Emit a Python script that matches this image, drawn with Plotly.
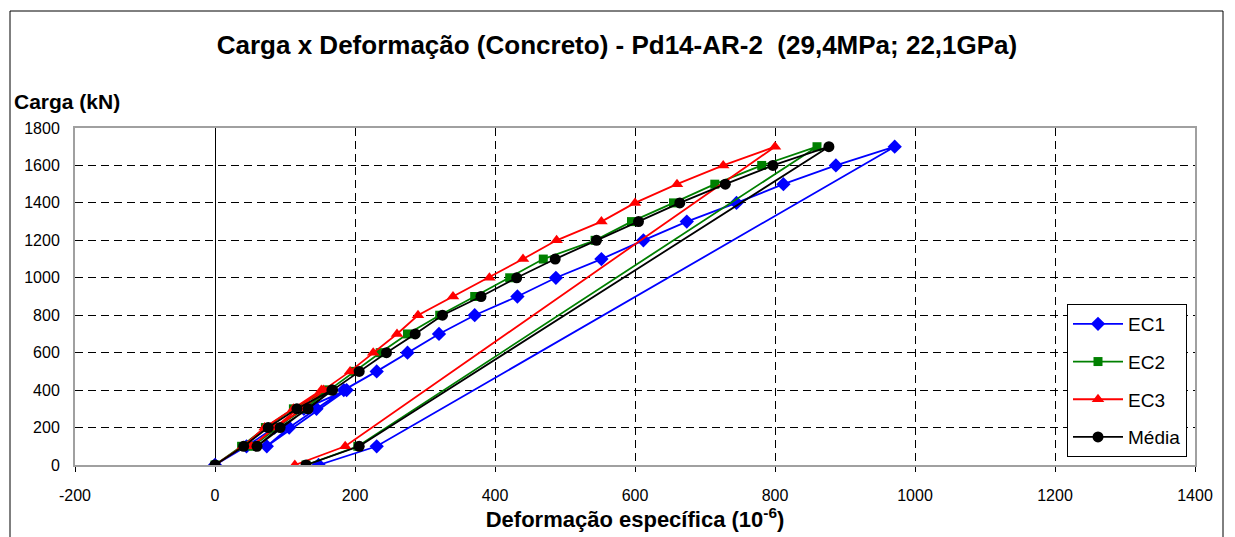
import plotly.graph_objects as go

# Load sequence: preload 0-400, reload 100-1700, unload 100, 0
loads = [0, 100, 200, 300, 400,
         100, 200, 300, 400, 500, 600, 700, 800, 900, 1000, 1100, 1200, 1300, 1400, 1500, 1600, 1700,
         100, 0]

ec1 = [0, 45, 85, 127, 188,
       74, 106, 145, 184, 231, 275, 320, 371, 432, 487, 552, 612, 674, 745, 812, 887, 971,
       231, 148]
ec2 = [0, 38, 72, 112, 160,
       54, 87, 128, 163, 200, 236, 275, 321, 371, 421, 469, 543, 595, 655, 714, 781, 860,
       204, 130]
ec3 = [0, 40, 71, 112, 152,
       52, 86, 126, 155, 193, 226, 260, 290, 340, 392, 440, 488, 552, 600, 660, 726, 800,
       186, 114]
media = [0, 41, 76, 117, 167,
         60, 93, 133, 168, 206, 245, 286, 325, 380, 431, 486, 545, 605, 664, 729, 797, 877,
         206, 130]

x_ticks = [-200, 0, 200, 400, 600, 800, 1000, 1200, 1400]
y_ticks = [0, 200, 400, 600, 800, 1000, 1200, 1400, 1600, 1800]

title_text = "Carga x Deformação (Concreto) - Pd14-AR-2  (29,4MPa; 22,1GPa)"
x_title = "Deformação específica (10<sup>-6</sup>)"
y_title = "Carga (kN)"

FONT = "Liberation Sans, Arial, sans-serif"

series = [
    ("EC1", ec1, "#0000FF", "diamond", 11),
    ("EC2", ec2, "#008000", "square", 9),
    ("EC3", ec3, "#FF0000", "triangle-up", 11),
    ("Média", media, "#000000", "circle", 11),
]

# page has 8px body margin: figure is 1227x529 placed at (8,8)
W, H = 1227, 529
PL, PT, PR, PB = 75, 128, 1195, 465  # plot area in page px

fig = go.Figure()
for name, vals, color, sym, size in series:
    fig.add_trace(go.Scatter(
        x=vals, y=loads, name=name, mode="lines+markers",
        line=dict(color=color, width=1.8),
        marker=dict(symbol=sym, size=size, color=color),
        legendgroup=name,
    ))

pw, ph = PR - PL, PB - PT
fig.update_layout(
    width=W, height=H,
    margin=dict(l=PL - 8, r=W + 8 - PR, t=PT - 8, b=H + 8 - PB, pad=0),
    paper_bgcolor="white", plot_bgcolor="white",
    font=dict(family=FONT, size=16, color="black"),
    title=dict(text="<b>" + title_text + "</b>", x=(617 - 8) / W, xref="container", xanchor="center",
               y=1 - (45 - 8) / H, yref="container", yanchor="middle",
               font=dict(size=26, family=FONT, color="black")),
    showlegend=True,
    legend=dict(x=(1067 - PL) / pw, y=(PB - 304) / ph, xanchor="left", yanchor="top",
                bgcolor="white", bordercolor="black", borderwidth=1,
                font=dict(size=19, family=FONT), tracegroupgap=10,
                itemwidth=50),
    xaxis=dict(range=[-200, 1400], tickvals=x_ticks, ticktext=[str(v) for v in x_ticks],
               showgrid=True, gridcolor="black", griddash="8px,5px", gridwidth=1,
               zeroline=True, zerolinecolor="black", zerolinewidth=1,
               showline=True, mirror=True, linecolor="#a0a0a0", linewidth=2,
               ticks="outside", ticklen=5, tickcolor="black",
               ticklabelstandoff=10,
               title=dict(text="<b>" + x_title + "</b>", font=dict(size=22, family=FONT), standoff=2)),
    yaxis=dict(range=[0, 1800], tickvals=y_ticks, ticktext=[str(v) for v in y_ticks],
               showgrid=True, gridcolor="black", griddash="8px,5px", gridwidth=1,
               zeroline=True, zerolinecolor="black", zerolinewidth=1.5,
               showline=True, mirror=True, linecolor="#a0a0a0", linewidth=2,
               ticks="", ticklabelstandoff=10),
    annotations=[dict(text="<b>" + y_title + "</b>", xref="paper", yref="paper",
                      x=(12 - PL) / pw, y=(PB - 101) / ph, xanchor="left", yanchor="middle",
                      showarrow=False, font=dict(size=21, family=FONT))],
    shapes=[dict(type="rect", xref="paper", yref="paper",
                 x0=(10 - PL) / pw, x1=(1223 - PL) / pw,
                 y0=(PB - 545) / ph, y1=(PB - 11) / ph,
                 line=dict(color="black", width=1), fillcolor="rgba(0,0,0,0)")],
)

fig.write_html("out.html")
